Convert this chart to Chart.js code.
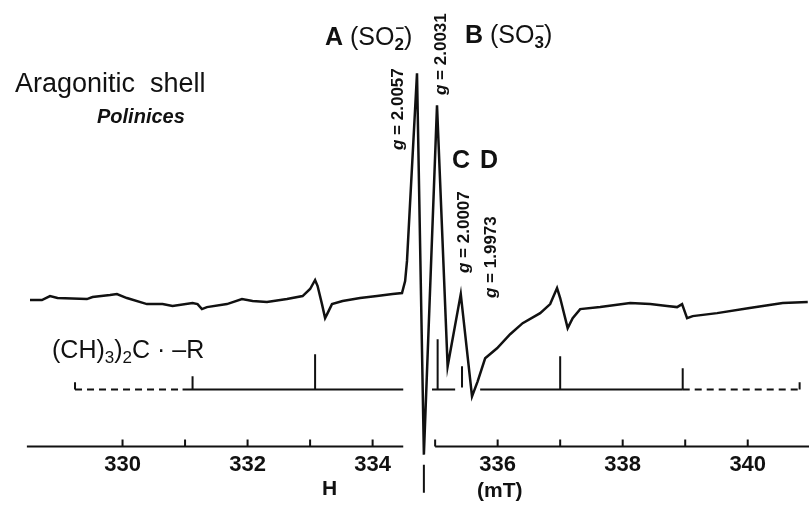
<!DOCTYPE html>
<html>
<head>
<meta charset="utf-8">
<script src="https://cdn.jsdelivr.net/npm/chart.js@4.4.0/dist/chart.umd.min.js"></script>
<style>
  html, body { margin: 0; padding: 0; background: #fff; }
  #wrap { width: 809px; height: 506px; }
</style>
</head>
<body>
<div id="wrap"><canvas id="myChart" width="809" height="506"></canvas></div>
<script>
// ESR spectrum, field in mT, signal in arbitrary units (baseline = 0)
var fieldMT = [328.52, 328.71, 328.84, 328.96, 329.43, 329.52, 329.80, 329.91, 330.07, 330.39,
               330.64, 330.80, 331.12, 331.20, 331.27, 331.35, 331.67, 331.91, 332.08, 332.31,
               332.63, 332.88, 333.00, 333.08, 333.12, 333.19, 333.24, 333.28, 333.35, 333.52,
               333.80, 334.07, 334.32, 334.47, 334.52, 334.55, 334.71, 334.82, 335.03, 335.20,
               335.41, 335.59, 335.68, 335.80, 335.99, 336.20, 336.40, 336.68, 336.84, 336.95,
               337.00, 337.12, 337.20, 337.32, 337.64, 338.12, 338.44, 338.71, 338.87, 338.95,
               339.03, 339.12, 339.51, 340.03, 340.56, 340.96];
var signal = [-0.5, -0.5, 0.5, 0, -0.25, 0.25, 0.75, 1.0, 0, -1.5,
              -1.5, -2, -1.25, -1.5, -2.75, -2.25, -1.5, -0.25, -0.75, -1,
              -0.25, 0.5, 2.25, 4.5, 3, -1.5, -5, -3.75, -1.5, -0.75,
              0, 0.5, 1, 1.25, 4.25, 9.25, 56, -39, 48, -17,
              1, -24.5, -20.75, -15, -12.5, -9, -6.25, -3.75, -1.5, 2.5,
              0, -7.5, -5, -2.75, -2.25, -1.25, -1.5, -2, -2.25, -1.5,
              -5, -4.5, -3.75, -2.5, -1.25, -1];

// (CH3)2C.-R stick pattern
var stickBase = -22.75;
var stickField = [331.12, 333.08, 335.04, 337.00, 338.96];
var stickHeight = [3.25, 8.75, 12.5, 8.25, 5.25];
var stickSolid = [[330.96, 334.49], [334.95, 335.32], [335.72, 338.96]];
var stickDashed = [[329.24, 330.96], [338.96, 340.83]];
var stickEnds = [329.24, 340.83];
var markField = [335.43];
var markTop = [-17];
var markBottom = [-22.25];

// field axis
var axisLevel = -37;
var axisSegments = [[328.47, 334.49], [335.0, 340.98]];
var axisTicks = [330, 331, 332, 333, 334, 335, 336, 337, 338, 339, 340];
var tickLabels = [330, 332, 334, 336, 338, 340];
var centerField = 334.82;

var ink = '#111';
var FONT = '"Liberation Sans", Arial, Helvetica, sans-serif';

function segs(list) {
  var out = [];
  list.forEach(function(s) {
    out.push({x: s[0], y: s[1]}, {x: s[2], y: s[3]}, {x: s[2], y: null});
  });
  return out;
}

var spectrum = fieldMT.map(function(h, i) { return {x: h, y: signal[i]}; });

var solidList = stickSolid.map(function(s) { return [s[0], stickBase, s[1], stickBase]; });
stickEnds.forEach(function(h) { solidList.push([h, stickBase, h, stickBase + 1.75]); });
stickField.forEach(function(h, i) { solidList.push([h, stickBase, h, stickBase + stickHeight[i]]); });
markField.forEach(function(h, i) { solidList.push([h, markBottom[i], h, markTop[i]]); });

var dashedList = stickDashed.map(function(s) { return [s[0], stickBase, s[1], stickBase]; });

var axisList = axisSegments.map(function(s) { return [s[0], axisLevel, s[1], axisLevel]; });
axisTicks.forEach(function(h) { axisList.push([h, axisLevel, h, axisLevel + 1.75]); });

var centerList = [[centerField, -41.5, centerField, -48.5]];

function lineSet(data, width, dash) {
  return {
    data: data,
    borderColor: ink,
    borderWidth: width,
    borderDash: dash || [],
    pointRadius: 0,
    tension: 0,
    spanGaps: false,
    clip: false,
    fill: false
  };
}

// text with subscript (optionally stacked superscript)
function rich(ctx, x, y, parts) {
  parts.forEach(function(p) {
    ctx.font = p.f;
    var dy = p.dy || 0;
    ctx.fillText(p.t, x, y + dy);
    var w = ctx.measureText(p.t).width;
    if (p.sup) {
      ctx.font = p.supFont;
      ctx.fillText(p.sup, x + 1, y + p.supDy);
    }
    x += w;
  });
}

function gLabel(ctx, bx, by, value) {
  ctx.save();
  ctx.translate(bx, by);
  ctx.rotate(-Math.PI / 2);
  ctx.font = 'italic bold 17px ' + FONT;
  ctx.fillText('g', 0, 0);
  var w = ctx.measureText('g ').width;
  ctx.font = 'bold 17px ' + FONT;
  ctx.fillText('= ' + value, w, 0);
  ctx.restore();
}

var textPlugin = {
  id: 'labels',
  afterDraw: function(chart) {
    var ctx = chart.ctx;
    ctx.save();
    ctx.fillStyle = ink;
    ctx.textAlign = 'left';
    ctx.textBaseline = 'alphabetic';

    ctx.font = '27px ' + FONT;
    ctx.fillText('Aragonitic  shell', 15, 92);
    ctx.font = 'italic bold 20px ' + FONT;
    ctx.fillText('Polinices', 97, 123);

    rich(ctx, 325, 45, [
      {t: 'A ', f: 'bold 25px ' + FONT},
      {t: '(SO', f: '25px ' + FONT},
      {t: '2', f: 'bold 17px ' + FONT, dy: 5, sup: '\u2212', supFont: 'bold 15px ' + FONT, supDy: -12},
      {t: ')', f: '25px ' + FONT}
    ]);
    rich(ctx, 465, 43, [
      {t: 'B ', f: 'bold 25px ' + FONT},
      {t: '(SO', f: '25px ' + FONT},
      {t: '3', f: 'bold 17px ' + FONT, dy: 5, sup: '\u2212', supFont: 'bold 15px ' + FONT, supDy: -12},
      {t: ')', f: '25px ' + FONT}
    ]);

    ctx.font = 'bold 25px ' + FONT;
    ctx.fillText('C', 452, 168);
    ctx.fillText('D', 480, 168);

    gLabel(ctx, 403, 150, '2.0057');
    gLabel(ctx, 446, 95, '2.0031');
    gLabel(ctx, 469, 273, '2.0007');
    gLabel(ctx, 496, 298, '1.9973');

    rich(ctx, 52, 358, [
      {t: '(CH)', f: '25px ' + FONT},
      {t: '3', f: '17px ' + FONT, dy: 5},
      {t: ')', f: '25px ' + FONT},
      {t: '2', f: '17px ' + FONT, dy: 5},
      {t: 'C \u00B7 \u2013R', f: '25px ' + FONT}
    ]);

    ctx.font = 'bold 21px ' + FONT;
    ctx.fillText('H', 322, 495);
    ctx.fillText('(mT)', 477, 497);
    ctx.restore();
  }
};

function init() {
  var ctx = document.getElementById('myChart').getContext('2d');
  var chart = new Chart(ctx, {
    type: 'line',
    data: {
      datasets: [
        lineSet(spectrum, 2.5),
        lineSet(segs(solidList), 2),
        lineSet(segs(dashedList), 2, [7, 5]),
        lineSet(segs(axisList), 2),
        lineSet(segs(centerList), 2)
      ]
    },
    options: {
      responsive: false,
      animation: false,
      devicePixelRatio: 1,
      layout: { padding: { left: 0, right: 0, top: 0, bottom: 23 } },
      plugins: { legend: { display: false }, tooltip: { enabled: false } },
      scales: {
        x: {
          type: 'linear',
          min: 328.04,
          max: 340.98,
          grid: { display: false, drawTicks: false, tickLength: 0 },
          border: { display: false },
          afterBuildTicks: function(scale) {
            scale.ticks = tickLabels.map(function(v) { return {value: v}; });
          },
          ticks: {
            padding: 5,
            color: ink,
            font: { family: FONT, size: 22, weight: 'bold' },
            maxRotation: 0,
            autoSkip: false,
            callback: function(v) { return String(v); }
          }
        },
        y: { display: false, min: -37, max: 74.25 }
      }
    },
    plugins: [textPlugin]
  });
}
init();
</script>
</body>
</html>
